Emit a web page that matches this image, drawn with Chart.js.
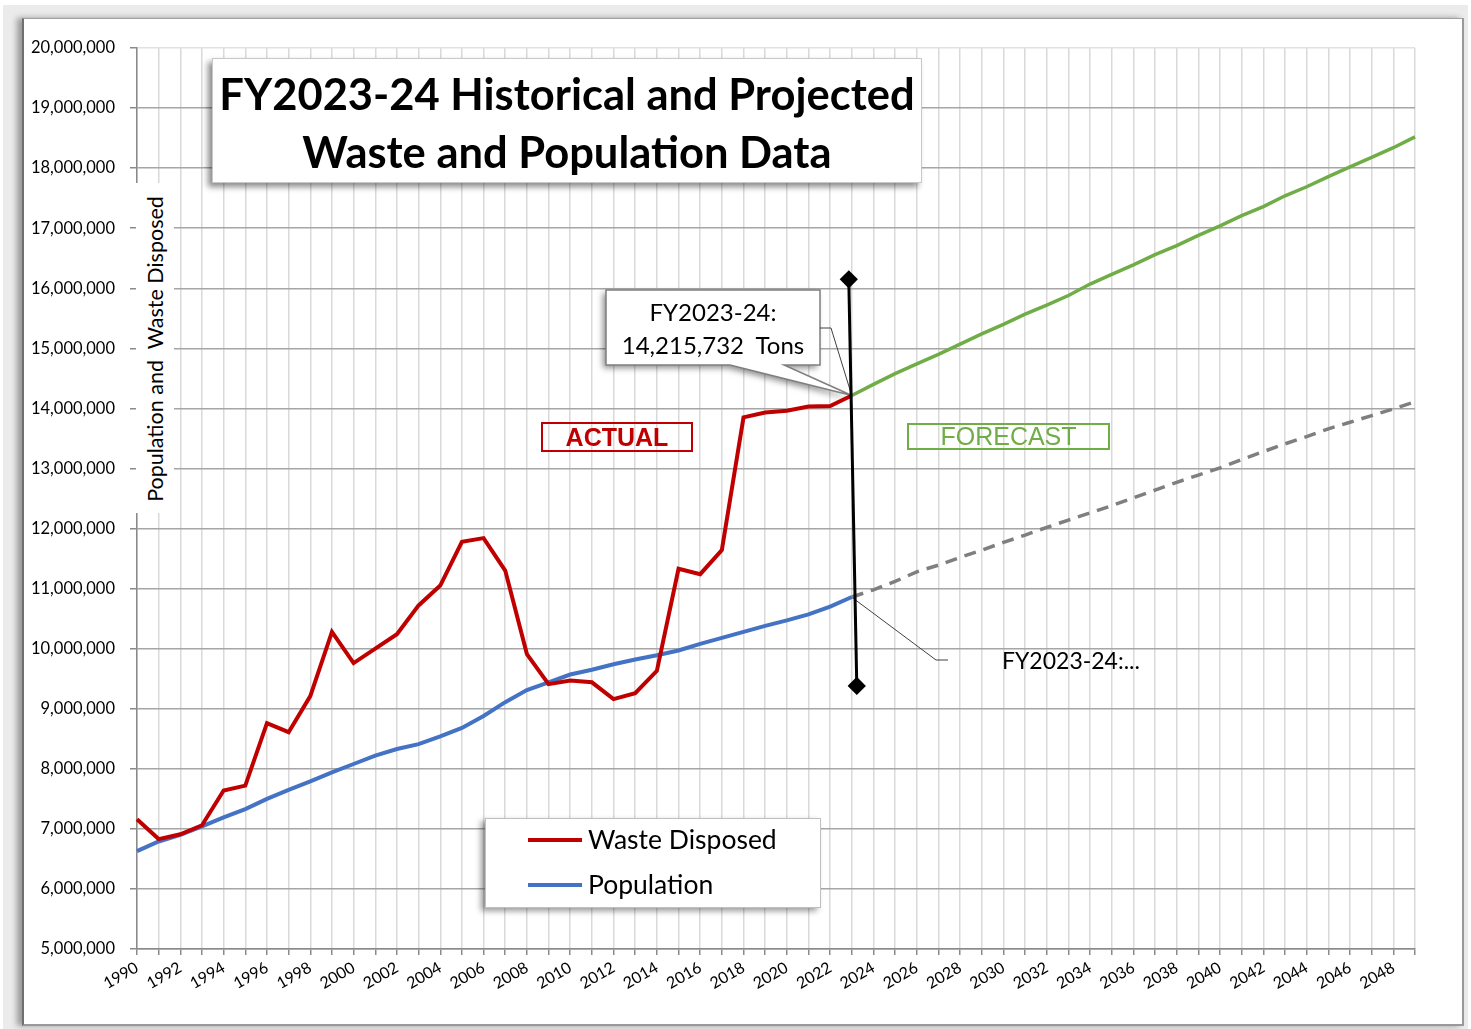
<!DOCTYPE html>
<html>
<head>
<meta charset="utf-8">
<script src="https://cdn.jsdelivr.net/npm/chart.js@4.4.1/dist/chart.umd.min.js"></script>
<style>
  body { margin: 0; width: 1471px; height: 1029px; overflow: hidden; background: #fff; font-family: Lato, sans-serif; }
  #outer { position: absolute; left: 3px; top: 5px; width: 1465px; height: 1024px; background: #ebebeb; }
  #frame { position: absolute; left: 22px; top: 18px; width: 1438px; height: 1005px; background: #fff;
           border-left: 2px solid #6f6f6f; border-top: 1px solid #a0a0a0; border-right: 2px solid #999; border-bottom: 2px solid #999;
           box-shadow: -5px 0 6px rgba(0,0,0,0.35); }
  #chart { position: absolute; left: 0; top: 0; z-index: 1; }
  .ov { position: absolute; z-index: 2; box-sizing: border-box; }
  #title { left: 212px; top: 58px; width: 710px; height: 125px; background: #fff; border: 1px solid #c8c8c8;
           box-shadow: -4px 4px 6px rgba(0,0,0,0.45); text-align: center; font-weight: 700; font-size: 43.5px; line-height: 58px; padding-top: 5px; color: #000; }
  #ytitle { left: 136px; top: 183px; width: 38px; height: 330px; background: #fff; }
  #ytitle span { position: absolute; left: 19px; top: 166px; transform: translate(-50%, -50%) rotate(-90deg); white-space: pre; font-size: 21.5px; color: #000; }
  #actual { left: 541px; top: 422px; width: 152px; height: 30px; border: 2px solid #c00000; color: #c00000; font: bold 25px "Liberation Sans", Arial, sans-serif; text-align: center; line-height: 26px; }
  #forecast { left: 907px; top: 423px; width: 203px; height: 27px; border: 2px solid #70ad47; color: #70ad47; font: 25px "Liberation Sans", Arial, sans-serif; text-align: center; line-height: 23px; }
  #wasteNote { left: 606px; top: 290px; width: 214px; height: 75px; font-size: 24px; line-height: 33px; text-align: center; padding-top: 5px; color: #000; }
  #popNote { left: 1002px; top: 646px; font-size: 23px; color: #000; white-space: nowrap; }
  #legend { left: 485px; top: 818px; width: 336px; height: 90px; background: #fff; border: 1px solid #c0c0c0; box-shadow: -4px 3px 6px rgba(0,0,0,0.4); }
  .lg { position: absolute; left: 42px; font-size: 26.5px; color: #000; white-space: nowrap; }
  .lg i { display: inline-block; width: 54px; height: 4px; vertical-align: middle; margin-right: 6px; position: relative; top: -2px; }
</style>
</head>
<body>
<div id="outer"></div>
<div id="frame"></div>
<canvas id="chart" width="1471" height="1029"></canvas>
<div class="ov" id="title">FY2023-24 Historical and Projected<br>Waste and Population Data</div>
<div class="ov" id="ytitle"><span>Population and  Waste Disposed</span></div>
<div class="ov" id="actual">ACTUAL</div>
<div class="ov" id="forecast">FORECAST</div>
<div class="ov" id="wasteNote">FY2023-24:<br>14,215,732&nbsp; Tons</div>
<div class="ov" id="popNote">FY2023-24:...</div>
<div class="ov" id="legend">
  <div class="lg" style="top:4px"><i style="background:#c00000"></i>Waste Disposed</div>
  <div class="lg" style="top:49px"><i style="background:#4472c4"></i>Population</div>
</div>
<script>
// years on the x axis, 1990 - 2049
const years = [];
for (let yr = 1990; yr <= 2049; yr++) years.push(String(yr));

// actuals, 1990 - 2023
const wasteDisposed = [
  7160000, 6830000, 6910000, 7060000, 7640000, 7720000, 8760000, 8610000, 9210000, 10280000,
  9760000, 10000000, 10240000, 10720000, 11050000, 11780000, 11840000, 11300000, 9910000, 9410000,
  9470000, 9440000, 9160000, 9260000, 9630000, 11330000, 11240000, 11640000, 13850000, 13930000,
  13960000, 14030000, 14040000, 14215732
];
const population = [
  6630000, 6790000, 6900000, 7040000, 7190000, 7330000, 7500000, 7650000, 7790000, 7940000,
  8080000, 8220000, 8330000, 8410000, 8540000, 8680000, 8880000, 9110000, 9310000, 9440000,
  9570000, 9650000, 9740000, 9820000, 9890000, 9970000, 10080000, 10180000, 10280000, 10380000,
  10470000, 10570000, 10700000, 10860000
];

// forecasts, 2023 - 2049
const wasteForecast = [
  14215732, 14400000, 14580000, 14740000, 14900000, 15070000, 15240000, 15400000, 15570000, 15720000,
  15880000, 16070000, 16230000, 16390000, 16560000, 16710000, 16880000, 17040000, 17210000, 17360000,
  17540000, 17690000, 17860000, 18020000, 18180000, 18340000, 18520000
];
const populationForecast = [
  10860000, 10980000, 11120000, 11280000, 11390000, 11520000, 11640000, 11770000, 11890000, 12020000,
  12140000, 12260000, 12380000, 12510000, 12640000, 12770000, 12890000, 13010000, 13150000, 13280000,
  13410000, 13530000, 13660000, 13770000, 13880000, 13990000, 14110000
];

// FY2023-24 marker line (year, value)
const markerTop = { x: 2022.86, y: 16150000 };
const markerBottom = { x: 2023.23, y: 9380000 };

/**
 * Pads a series so it lines up with the full list of years.
 */
function alignSeries(values, startYear) {
  const offset = years.indexOf(String(startYear));
  return years.map((_, i) => (i >= offset && i - offset < values.length) ? values[i - offset] : null);
}

const lastActual = wasteDisposed.length - 1;

// Callout bubble and leader lines, drawn under the series
const calloutPlugin = {
  id: 'callouts',
  beforeDatasetsDraw(chart) {
    const { ctx, scales: { x, y } } = chart;
    const tipX = x.getPixelForValue(lastActual);
    const tipY = y.getPixelForValue(wasteDisposed[lastActual]);
    ctx.save();
    ctx.shadowColor = 'rgba(0,0,0,0.45)';
    ctx.shadowBlur = 6;
    ctx.shadowOffsetX = -3;
    ctx.shadowOffsetY = 3;
    ctx.beginPath();
    ctx.moveTo(606, 290);
    ctx.lineTo(820, 290);
    ctx.lineTo(820, 365);
    ctx.lineTo(784, 365);
    ctx.lineTo(tipX, tipY);
    ctx.lineTo(730, 365);
    ctx.lineTo(606, 365);
    ctx.closePath();
    ctx.fillStyle = '#fff';
    ctx.fill();
    ctx.shadowColor = 'transparent';
    ctx.strokeStyle = '#7f7f7f';
    ctx.lineWidth = 1.5;
    ctx.stroke();

    ctx.strokeStyle = '#404040';
    ctx.lineWidth = 1;
    ctx.beginPath();
    ctx.moveTo(820, 328);
    ctx.lineTo(831, 328);
    ctx.lineTo(tipX - 1, tipY - 3);
    ctx.stroke();

    const px = x.getPixelForValue(lastActual);
    const py = y.getPixelForValue(population[lastActual]);
    ctx.beginPath();
    ctx.moveTo(px + 1, py + 1);
    ctx.lineTo(936, 660);
    ctx.lineTo(948, 660);
    ctx.stroke();
    ctx.restore();
  }
};

Chart.defaults.font.family = 'Lato, sans-serif';
Chart.defaults.color = '#000';

function init() {
  const ctx = document.getElementById('chart').getContext('2d');
  new Chart(ctx, {
    type: 'line',
    data: {
      labels: years,
      datasets: [
        {
          label: 'FY2023-24',
          xAxisID: 'xv',
          data: [markerTop, markerBottom],
          borderColor: '#000',
          backgroundColor: '#000',
          borderWidth: 3,
          pointStyle: 'rectRot',
          pointRadius: 7,
          order: 0
        },
        {
          label: 'Waste Disposed',
          data: alignSeries(wasteDisposed, 1990),
          borderColor: '#c00000',
          borderWidth: 4,
          pointRadius: 0,
          order: 2
        },
        {
          label: 'Population',
          data: alignSeries(population, 1990),
          borderColor: '#4472c4',
          borderWidth: 4,
          pointRadius: 0,
          order: 3
        },
        {
          label: 'Waste Forecast',
          data: alignSeries(wasteForecast, 2023),
          borderColor: '#70ad47',
          borderWidth: 3.5,
          pointRadius: 0,
          order: 1
        },
        {
          label: 'Population Forecast',
          data: alignSeries(populationForecast, 2023),
          borderColor: '#7f7f7f',
          borderWidth: 3.5,
          borderDash: [12, 8],
          pointRadius: 0,
          order: 4
        }
      ]
    },
    options: {
      responsive: false,
      animation: false,
      spanGaps: false,
      layout: { padding: { left: 0, top: 48, right: 56, bottom: 0 } },
      plugins: {
        legend: { display: false },
        tooltip: { enabled: false }
      },
      scales: {
        x: {
          grid: { color: '#d9d9d9', lineWidth: 1.5, tickColor: '#8a8a8a', tickLength: 6 },
          border: { color: '#8a8a8a', width: 1.5 },
          ticks: {
            autoSkip: false,
            minRotation: 30,
            maxRotation: 30,
            padding: 3,
            font: { size: 16 },
            callback: (val, i) => (i % 2 === 0 ? years[i] : '')
          },
          afterFit: scale => { scale.height = 80; }
        },
        xv: {
          type: 'linear',
          display: false,
          min: 1990,
          max: 2049
        },
        y: {
          min: 5000000,
          max: 20000000,
          grid: {
            color: c => (c.tick && c.tick.value === 20000000 ? '#e2e2e2' : '#a6a6a6'),
            lineWidth: 1.5,
            tickColor: '#8a8a8a',
            tickLength: 7
          },
          border: { color: '#8a8a8a', width: 1.5 },
          ticks: {
            stepSize: 1000000,
            padding: 15,
            font: { size: 16.5 },
            callback: v => v.toLocaleString('en-US')
          },
          afterFit: scale => { scale.width = 137; }
        }
      }
    },
    plugins: [calloutPlugin]
  });
}

document.addEventListener('DOMContentLoaded', init);
</script>
</body>
</html>
